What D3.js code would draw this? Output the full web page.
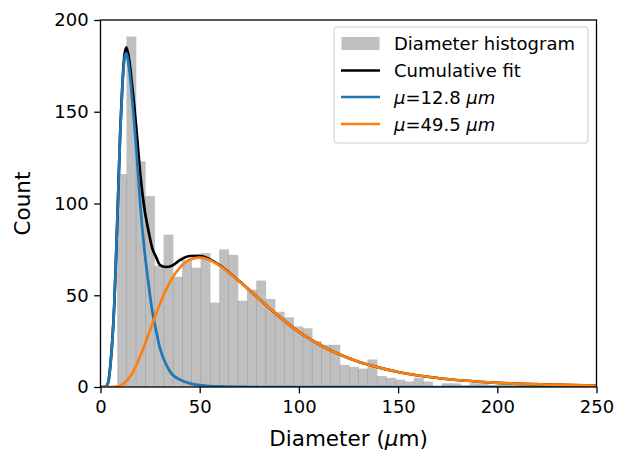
<!DOCTYPE html>
<html>
<head>
<meta charset="utf-8">
<script src="https://cdn.jsdelivr.net/npm/d3@7"></script>
<style>
  html, body { margin: 0; padding: 0; background: #fff; }
  svg { display: block; font-family: "DejaVu Sans", sans-serif; }
</style>
</head>
<body>
<svg id="chart" width="617" height="452"></svg>
<script>
// ---------- data ----------
const binStart = 8.42;     // left edge of first histogram bin (µm)
const binWidth = 4.672;    // histogram bin width (µm)
const histCounts = [116,191,123,104,66,83,60,69,65,73,46,75,72,47,53,58,48,41,38,33,32,25,23,23,12,11,10,15,6,5,4,3,5,3,0,2,2,1,2,2,1,1,1,2,2];

const fitX      = [0,2,3,4,5,6,7,8,9,10,11,12,13,14,15,16,17,18,19,20,22,24,26,28,30,33,36,40,45,50,55,60,70,80,90,100,110,120,130,140,150,170,200,225,250];
const fitSmall  = [0,0,0.5,3,12,26,46,76,108,140,163,178,182,177,168,156,144,130,115,100,76,58,42,31,21,12.5,7,4,2,1,0.5,0.3,0.1,0,0,0,0,0,0,0,0,0,0,0,0];
const fitLarge  = [0,0,0,0,0,0.05,0.1,0.2,0.4,0.8,1.3,2.1,3.1,4.3,5.8,7.5,9.5,11.7,14.1,16.7,22.2,28.1,34,39.9,45.4,52.9,59.1,65.1,69.4,70.5,69.2,66.1,57.5,48,38.5,30,23.3,18,13.8,10.7,8.2,4.9,2.3,1.3,0.7];
const fitTotal  = [0,0,0.5,3,12,26,46.1,76.2,108.4,140.8,164.3,180.1,185.1,181.3,173.8,163.5,153.5,141.7,129.1,116.7,98.2,86.1,76,70.9,66.4,65.4,66.1,69.1,71.4,71.5,69.7,66.4,57.6,48,38.5,30,23.3,18,13.8,10.7,8.2,4.9,2.3,1.3,0.7];

const xTicks = [0,50,100,150,200,250];
const yTicks = [0,50,100,150,200];
const legendLabels = ["Diameter histogram","Cumulative fit","μ=12.8 μm","μ=49.5 μm"];

// ---------- layout ----------
const svg = d3.select("#chart");
const L = 100.5, R = 596.5, T = 20, B = 387;
const x = d3.scaleLinear().domain([0,250]).range([L,R]);
const y = d3.scaleLinear().domain([0,200]).range([B,T]);
const FS = 18, LFS = 21.5;

// histogram
const bins = histCounts.map((c,i)=>({x0: binStart + i*binWidth, x1: binStart + (i+1)*binWidth, c}));
svg.append("g").selectAll("rect").data(bins.filter(d=>d.c>0)).join("rect")
  .attr("x", d=>x(d.x0))
  .attr("width", d=>x(d.x1)-x(d.x0)+0.6)
  .attr("y", d=>y(d.c))
  .attr("height", d=>y(0)-y(d.c))
  .attr("fill", "#808080")
  .attr("fill-opacity", 0.5);

// curves
const pts = vals => fitX.map((v,i)=>[v, vals[i]]);
const line = d3.line().x(d=>x(d[0])).y(d=>y(d[1])).curve(d3.curveMonotoneX);
svg.append("clipPath").attr("id","clip").append("rect")
  .attr("x",L).attr("y",T).attr("width",R-L).attr("height",B-T);
const cg = svg.append("g").attr("clip-path","url(#clip)");
[[fitTotal,"#000000"],[fitSmall,"#1f77b4"],[fitLarge,"#ff7f0e"]].forEach(([v,c])=>{
  cg.append("path").attr("d", line(pts(v))).attr("fill","none")
    .attr("stroke", c).attr("stroke-width", 2.7).attr("stroke-linejoin","round").attr("stroke-linecap","square");
});

// axes
const xAxis = d3.axisBottom(x).tickValues(xTicks).tickSize(6.3).tickPadding(6.5).tickFormat(d3.format("d"));
const yAxis = d3.axisLeft(y).tickValues(yTicks).tickSize(6.3).tickPadding(5.5).tickFormat(d3.format("d"));
const gx = svg.append("g").attr("transform", `translate(0,${B})`).call(xAxis);
const gy = svg.append("g").attr("transform", `translate(${L},0)`).call(yAxis);
[gx,gy].forEach(g=>{
  g.select(".domain").remove();
  g.selectAll(".tick line").attr("stroke","#000").attr("stroke-width",1.3);
  g.selectAll(".tick text").attr("fill","#000").attr("font-size",FS).attr("font-family","DejaVu Sans");
});
// spines
svg.append("rect").attr("x",L).attr("y",T).attr("width",R-L).attr("height",B-T)
  .attr("fill","none").attr("stroke","#000").attr("stroke-width",1.3);

// axis labels
const xl = svg.append("text").attr("x",(L+R)/2).attr("y",446).attr("text-anchor","middle")
  .attr("font-size",LFS).attr("fill","#000");
xl.append("tspan").text("Diameter (");
xl.append("tspan").attr("font-style","italic").text("μ");
xl.append("tspan").text("m)");
svg.append("text").attr("transform",`translate(30,${(T+B)/2}) rotate(-90)`).attr("text-anchor","middle")
  .attr("font-size",LFS).attr("fill","#000").text("Count");

// legend
const lg = svg.append("g");
lg.append("rect").attr("x",334).attr("y",27).attr("width",254).attr("height",116)
  .attr("rx",3).attr("fill","#fff").attr("fill-opacity",0.8).attr("stroke","#cccccc").attr("stroke-width",1);
const rowY = [43.5, 70.5, 97, 124];
lg.append("rect").attr("x",341.5).attr("y",37).attr("width",38).attr("height",13)
  .attr("fill","#808080").attr("fill-opacity",0.5);
[["#000000",1],["#1f77b4",2],["#ff7f0e",3]].forEach(([c,i])=>{
  lg.append("line").attr("x1",341).attr("x2",380).attr("y1",rowY[i]).attr("y2",rowY[i])
    .attr("stroke",c).attr("stroke-width",2.7);
});
legendLabels.forEach((t,i)=>{
  const tx = lg.append("text").attr("x",394).attr("y",rowY[i]+6.5).attr("font-size",FS).attr("fill","#000");
  if (t.startsWith("μ=")) {
    const parts = t.split(" ");
    tx.append("tspan").attr("font-style","italic").text("μ");
    tx.append("tspan").text(parts[0].slice(1) + " ");
    tx.append("tspan").attr("font-style","italic").text(parts[1]);
  } else {
    tx.text(t);
  }
});
</script>
</body>
</html>
